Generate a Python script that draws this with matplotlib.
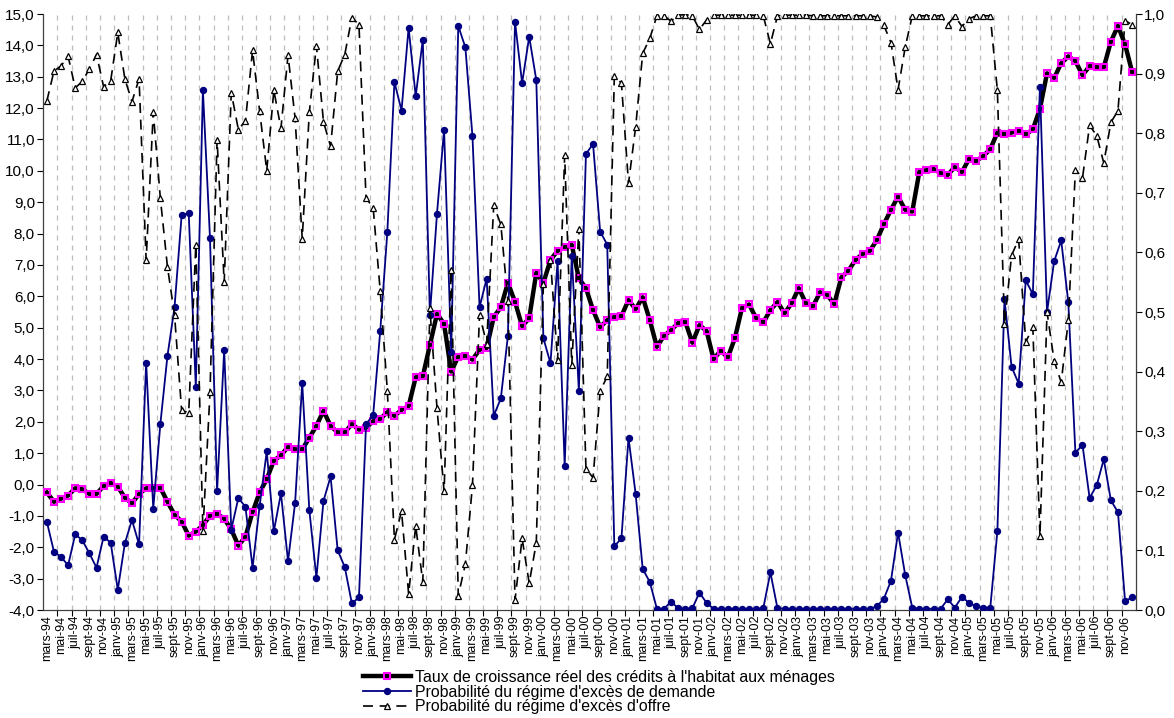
import numpy as np
import matplotlib
matplotlib.use("Agg")
import matplotlib.pyplot as plt
from matplotlib.lines import Line2D

plt.rcParams['font.family'] = ['Liberation Sans', 'DejaVu Sans']

month_names = ['janv', 'févr', 'mars', 'avr', 'mai', 'juin',
               'juil', 'août', 'sept', 'oct', 'nov', 'déc']
# monthly categories from mars-94 to déc-06
categories = [f"{month_names[(2 + i) % 12]}-{(94 + (2 + i) // 12) % 100:02d}" for i in range(154)]

credit_growth = [
    -0.25, -0.55, -0.45, -0.35, -0.12, -0.15, -0.30, -0.30, -0.05, 0.05,
    -0.07, -0.42, -0.60, -0.30, -0.12, -0.12, -0.10, -0.55, -0.96, -1.18,
    -1.63, -1.50, -1.30, -0.99, -0.93, -1.09, -1.43, -1.95, -1.66, -0.88,
    -0.25, 0.17, 0.76, 0.93, 1.20, 1.12, 1.12, 1.49, 1.87, 2.35,
    1.87, 1.66, 1.66, 1.93, 1.75, 1.81, 2.02, 2.09, 2.31, 2.19,
    2.38, 2.50, 3.42, 3.45, 4.45, 5.44, 5.12, 3.60, 4.08, 4.10,
    3.98, 4.30, 4.35, 5.34, 5.65, 6.43, 5.82, 5.05, 5.30, 6.75,
    6.43, 7.16, 7.45, 7.57, 7.64, 6.57, 6.26, 5.56, 5.02, 5.24,
    5.34, 5.37, 5.88, 5.59, 5.97, 5.24, 4.39, 4.74, 4.92, 5.15,
    5.19, 4.52, 5.08, 4.90, 3.99, 4.27, 4.05, 4.67, 5.63, 5.74,
    5.30, 5.17, 5.56, 5.82, 5.46, 5.78, 6.26, 5.78, 5.68, 6.13,
    6.05, 5.75, 6.60, 6.82, 7.16, 7.35, 7.44, 7.79, 8.30, 8.76,
    9.18, 8.76, 8.70, 9.97, 10.02, 10.06, 9.93, 9.87, 10.12, 9.96,
    10.38, 10.31, 10.47, 10.69, 11.22, 11.17, 11.22, 11.28, 11.16, 11.32,
    11.98, 13.11, 12.96, 13.43, 13.65, 13.50, 13.05, 13.34, 13.31, 13.30,
    14.12, 14.62, 14.03, 13.15,
]

prob_demand = [
    0.148, 0.098, 0.089, 0.075, 0.127, 0.117, 0.095, 0.071, 0.123, 0.113,
    0.034, 0.112, 0.151, 0.110, 0.415, 0.170, 0.312, 0.426, 0.508, 0.662,
    0.666, 0.374, 0.872, 0.624, 0.200, 0.436, 0.135, 0.188, 0.173, 0.071,
    0.175, 0.266, 0.132, 0.196, 0.082, 0.180, 0.381, 0.168, 0.054, 0.183,
    0.224, 0.100, 0.072, 0.011, 0.021, 0.312, 0.327, 0.468, 0.634, 0.886,
    0.838, 0.977, 0.862, 0.957, 0.495, 0.665, 0.806, 0.433, 0.980, 0.944,
    0.795, 0.508, 0.556, 0.326, 0.355, 0.460, 0.987, 0.884, 0.962, 0.889,
    0.456, 0.414, 0.586, 0.242, 0.594, 0.368, 0.765, 0.782, 0.635, 0.613,
    0.107, 0.120, 0.289, 0.195, 0.069, 0.047, 0.002, 0.002, 0.014, 0.003,
    0.002, 0.003, 0.029, 0.012, 0.002, 0.002, 0.002, 0.002, 0.002, 0.002,
    0.002, 0.003, 0.063, 0.003, 0.002, 0.002, 0.002, 0.002, 0.002, 0.002,
    0.002, 0.002, 0.002, 0.002, 0.002, 0.002, 0.002, 0.006, 0.019, 0.049,
    0.130, 0.059, 0.004, 0.002, 0.002, 0.002, 0.002, 0.018, 0.004, 0.022,
    0.012, 0.006, 0.004, 0.004, 0.132, 0.522, 0.408, 0.380, 0.553, 0.530,
    0.878, 0.500, 0.585, 0.620, 0.516, 0.264, 0.277, 0.188, 0.209, 0.253,
    0.184, 0.164, 0.015, 0.021,
]

prob_supply = [
    0.854, 0.904, 0.913, 0.929, 0.876, 0.887, 0.908, 0.932, 0.878, 0.888,
    0.969, 0.891, 0.853, 0.891, 0.587, 0.835, 0.691, 0.576, 0.495, 0.335,
    0.331, 0.613, 0.132, 0.365, 0.789, 0.550, 0.868, 0.806, 0.821, 0.939,
    0.837, 0.737, 0.872, 0.808, 0.931, 0.825, 0.623, 0.835, 0.947, 0.819,
    0.778, 0.904, 0.932, 0.994, 0.982, 0.691, 0.675, 0.535, 0.368, 0.118,
    0.166, 0.027, 0.141, 0.047, 0.506, 0.339, 0.199, 0.571, 0.024, 0.077,
    0.209, 0.495, 0.447, 0.679, 0.647, 0.518, 0.017, 0.120, 0.045, 0.113,
    0.547, 0.587, 0.419, 0.763, 0.411, 0.640, 0.237, 0.222, 0.367, 0.392,
    0.896, 0.884, 0.716, 0.810, 0.934, 0.959, 0.997, 0.997, 0.988, 0.998,
    0.999, 0.997, 0.974, 0.990, 0.998, 0.998, 0.998, 0.998, 0.998, 0.998,
    0.998, 0.997, 0.950, 0.997, 0.998, 0.998, 0.998, 0.998, 0.997, 0.997,
    0.997, 0.997, 0.997, 0.997, 0.997, 0.997, 0.997, 0.995, 0.981, 0.952,
    0.873, 0.944, 0.997, 0.997, 0.997, 0.997, 0.997, 0.982, 0.997, 0.979,
    0.992, 0.997, 0.997, 0.997, 0.872, 0.480, 0.595, 0.622, 0.450, 0.474,
    0.124, 0.500, 0.418, 0.382, 0.486, 0.739, 0.725, 0.813, 0.796, 0.750,
    0.818, 0.838, 0.989, 0.982,
]

series_labels = [
    "Taux de croissance réel des crédits à l'habitat aux ménages",
    "Probabilité du régime d'excès de demande",
    "Probabilité du régime d'excès d'offre",
]

n = len(categories)
x = np.arange(n)

W, H = 1174, 718
fig = plt.figure(figsize=(W / 100, H / 100), dpi=100)
L, R, T, B = 43.3, 1135.7, 14, 610
ax = fig.add_axes([L / W, 1 - B / H, (R - L) / W, (B - T) / H])
ax2 = ax.twinx()

ax.set_xlim(-0.5, n - 0.5)
ax.set_ylim(-4, 15)
ax2.set_ylim(0, 1)

# vertical dashed gridlines every two months
for g in np.arange(1.5, n - 0.5, 2):
    ax.axvline(g, color='#BDBDBD', lw=0.9, ls=(0, (4, 4)), zorder=0)

navy = '#000080'
black_style = dict(color='black', lw=3.2, marker='s', ms=4.2,
                   mfc='none', mec='#FF00FF', mew=1.5)
blue_style = dict(color=navy, lw=1.3, marker='o', ms=4.3, mfc=navy, mec=navy)
dash_style = dict(color='black', lw=1.2, ls=(0, (6, 4)), marker='^',
                  ms=5, mfc='white', mec='black', mew=0.9)

ax.plot(x, credit_growth, zorder=3, **black_style)
ax2.plot(x, prob_demand, zorder=3, **blue_style)
ax2.plot(x, prob_supply, zorder=4, **dash_style)

yt = np.arange(-4, 15.01, 1.0)
ax.set_yticks(yt)
ax.set_yticklabels([f"{v:.1f}".replace('.', ',') for v in yt], fontsize=11)
yt2 = np.arange(0, 1.001, 0.1)
ax2.set_yticks(yt2)
ax2.set_yticklabels([f"{v:.1f}".replace('.', ',') for v in yt2], fontsize=11)

ax.set_xticks(x[::2])
ax.set_xticklabels(categories[::2], rotation=90, fontsize=9)
ax.set_xticks(np.arange(1.5, n - 0.5, 2), minor=True)
ax.tick_params(axis='x', which='major', length=0, pad=4)
ax.tick_params(axis='x', which='minor', length=4, width=0.8, direction='out')
ax.tick_params(axis='y', length=4, width=0.8, direction='out', pad=2)
ax2.tick_params(axis='y', length=4, width=0.8, direction='out', pad=2)

for a in (ax, ax2):
    a.spines['top'].set_visible(False)
    for s in ('left', 'right', 'bottom'):
        a.spines[s].set_linewidth(0.9)
        a.spines[s].set_color('#404040')
ax.spines['right'].set_visible(False)
ax2.spines['left'].set_visible(False)
ax2.spines['bottom'].set_visible(False)

handles = [Line2D([], [], **black_style),
           Line2D([], [], **blue_style),
           Line2D([], [], **dash_style)]
fig.legend(handles, series_labels, loc='upper left',
           bbox_to_anchor=(363 / W, 1 - 670 / H), frameon=False,
           fontsize=11.4, handlelength=3.0, handletextpad=0.3,
           labelspacing=-0.02, borderaxespad=0, borderpad=0)

fig.savefig('out.png', dpi=100)
